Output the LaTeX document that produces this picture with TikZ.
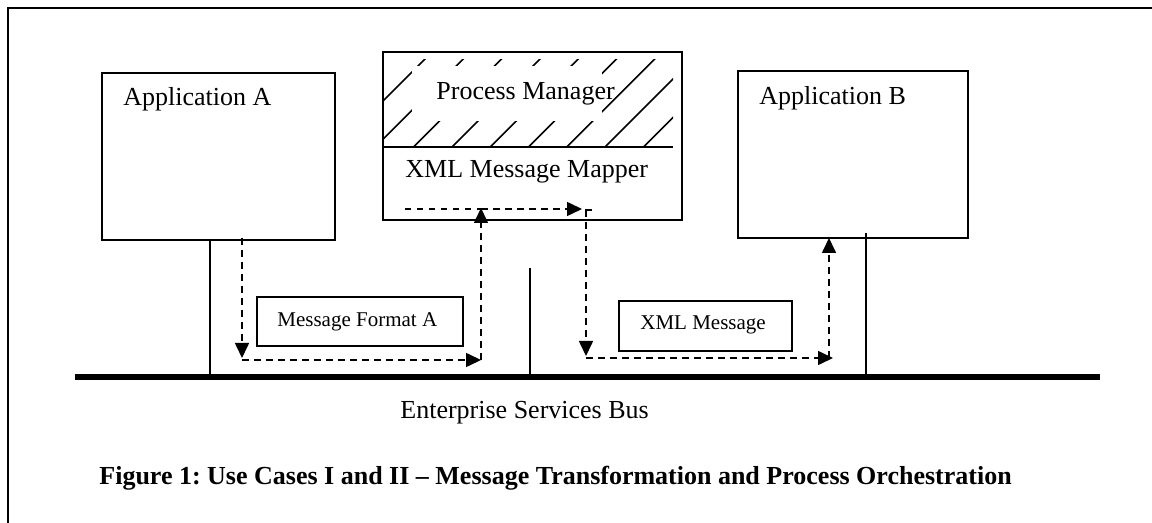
\documentclass[tikz,border=0pt]{standalone}
\usepackage{fontspec}
\setmainfont{Liberation Serif}
\usetikzlibrary{arrows.meta,positioning}
\tikzset{
    x=0.5pt, y=-0.5pt, % one unit is one pixel of the layout
    box/.style={draw, line width=1pt, inner sep=0pt}, % application boxes
    lbl/.style={anchor=base west, inner sep=0pt, font=\fontsize{13}{15}\selectfont},
    smalllbl/.style={anchor=base west, inner sep=0pt, font=\fontsize{10.5}{12}\selectfont},
    flow/.style={line width=0.8pt, dash pattern=on 3.5pt off 2.5pt,
        -{Triangle[length=7.5pt,width=7pt]}}, % dashed message path
    bus/.style={line width=3pt},
}

\begin{document}
\frenchspacing
\begin{tikzpicture}
  \useasboundingbox (0,0) rectangle (1152,523);
  % outer frame (only left and top edges show)
  \draw[line width=1pt] (8,523) -- (8,8) -- (1152,8);

  % boxes
  \node[box, minimum width=116.5pt, minimum height=83.5pt] (appA) at (218.5,156.5) {};
  \node[box, minimum width=149.5pt, minimum height=84pt]   (pm)   at (532.5,136)   {};
  \node[box, minimum width=115pt,   minimum height=83.5pt] (appB) at (853,154.5)   {};
  \node[box, minimum width=103pt,   minimum height=24.5pt] (fmtA) at (360,321.5)   {};
  \node[box, minimum width=86.5pt,  minimum height=25pt]   (xmlM) at (705.5,326)   {};

  % hatching of the process manager
  \begin{scope}
    \clip (383,60) rectangle (673,147);
    \foreach \i in {0,...,11}
      \draw[line width=0.8pt] (337+38.3*\i,147) -- ++(110,-110);
  \end{scope}
  \fill[white] (412,66) rectangle (602,121);
  \draw[line width=1pt] (382,147) -- (673,147);

  % labels
  \node[lbl] (lblA)   at (123,106) {Application A};
  \node[lbl] (lblB)   at (759,105) {Application B};
  \node[lbl] (lblPM)  at (436,100) {Process Manager};
  \node[lbl] (lblMap) at (405,178) {XML Message Mapper};
  \node[smalllbl] (lblFmt) at (277,327) {Message Format A};
  \node[smalllbl] (lblXml) at (640,330) {XML Message};
  \node[lbl] (lblBus) at (400,419) {Enterprise Services Bus};
  \node[lbl, font=\fontsize{13}{15}\selectfont\bfseries] (caption) at (99,485)
    {Figure 1: Use Cases I and II -- Message Transformation and Process Orchestration};

  % bus and drops
  \coordinate (busL) at (75,377);
  \coordinate (busR) at (1100,377);
  \coordinate (dropA) at (210,240);
  \coordinate (dropPM) at (530,268);
  \coordinate (dropB) at (866,233);
  \draw[bus] (busL) -- (busR);
  \draw[line width=1pt] (dropA) -- (dropA |- busL);
  \draw[line width=1pt] (dropPM) -- (dropPM |- busL);
  \draw[line width=1pt] (dropB) -- (dropB |- busL);

  % message path
  \coordinate (p1) at (242,238);
  \coordinate (p2) at (242,358);
  \coordinate (p3) at (481,360);
  \coordinate (p4) at (481,208);
  \coordinate (p5) at (582,209);
  \coordinate (p6) at (586,210);
  \coordinate (p7) at (586,356);
  \coordinate (p8) at (833,358);
  \coordinate (p9) at (829,238);
  \coordinate (p0) at (405,209);
  \draw[flow] (p1) -- (p2);
  \draw[flow] (p2 |- p3) -- (p3);
  \draw[flow] (p3) -- (p4);
  \draw[flow] (p4 |- p5) -- (p5);
  \draw[line width=0.6pt, dash pattern=on 3pt off 3pt] (p0) -- (p4 |- p0);
  \draw[line width=0.8pt] ([xshift=3pt]p6) -- (p6) -- ++(0,6);
  \draw[flow] (p6) -- (p7);
  \draw[flow] (p7 |- p8) -- (p8);
  \draw[flow] (p9 |- p8) -- (p9);
\end{tikzpicture}
\end{document}
